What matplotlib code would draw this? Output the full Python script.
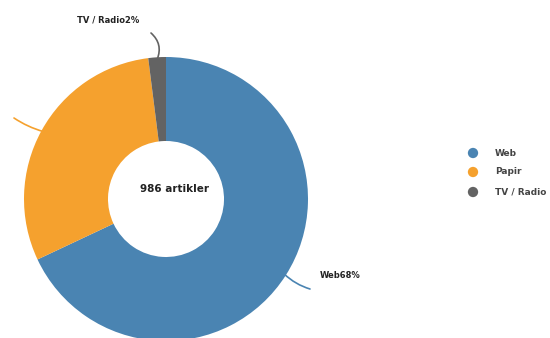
import numpy as np
import matplotlib
matplotlib.use("Agg")
import matplotlib.pyplot as plt

categories = ["Web", "Papir", "TV / Radio"]
values = [68, 30, 2]
colors = ["#4a84b2", "#f5a12e", "#636363"]
center_label = "986 artikler"

W, H = 550, 338
fig = plt.figure(figsize=(5.5, 3.38), dpi=100)
ax = fig.add_axes([0, 0, 1, 1])

cx, cy = 166, H - 199
R, r = 142, 58
ax.pie(values, colors=colors, startangle=90, counterclock=False,
       center=(cx, cy), radius=R, frame=True,
       wedgeprops=dict(width=R - r, edgecolor="none", linewidth=0))
ax.set_xlim(0, W)
ax.set_ylim(0, H)
ax.set_aspect("equal")
ax.axis("off")

ax.text(174, H - 189, center_label, ha="center", va="center",
        fontsize=7.5, fontweight="bold", color="#222222")

# leader lines and labels
total = sum(values)
cum = 0
ends = {"Web": ((310, H - 289), 0.12), "Papir": ((14, H - 118), -0.08),
        "TV / Radio": ((151, H - 33), 0.35)}
for cat, v, c in zip(categories, values, colors):
    mid = 90 - 360 * (cum + v / 2) / total
    cum += v
    a = np.deg2rad(mid)
    p0 = (cx + (R - 2) * np.cos(a), cy + (R - 2) * np.sin(a))
    p1, rad = ends[cat]
    ax.annotate("", xy=p1, xytext=p0,
                arrowprops=dict(arrowstyle="-", color=c, lw=1.2,
                                connectionstyle=f"arc3,rad={rad}",
                                shrinkA=0, shrinkB=0))
    lab = f"{cat}{v}%"
    if cat == "Web":
        ax.text(320, H - 276, lab, ha="left", va="center", fontsize=6,
                fontweight="bold", color="#222222")
    elif cat == "TV / Radio":
        ax.text(108, H - 20, lab, ha="center", va="center", fontsize=6,
                fontweight="bold", color="#222222")

# legend
ly = [153, 172, 192]
for cat, c, y in zip(categories, colors, ly):
    ax.scatter([473], [H - y], s=55, color=c, edgecolors="none")
    ax.text(495, H - y, cat, ha="left", va="center", fontsize=6.5,
            fontweight="bold", color="#444444")

fig.savefig("out.png", dpi=100)
